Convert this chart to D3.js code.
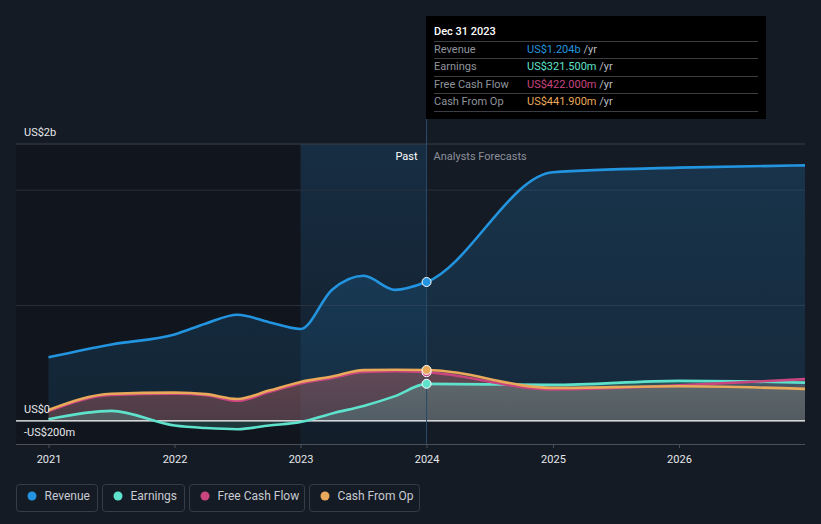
<!DOCTYPE html>
<html>
<head>
<meta charset="utf-8">
<script src="https://cdn.jsdelivr.net/npm/d3@7"></script>
<style>
  html, body { margin: 0; padding: 0; background: #151b25; }
  svg { display: block; font-family: Roboto, "Noto Sans", sans-serif; }
</style>
</head>
<body>
<svg id="chart" width="821" height="524"></svg>
<script>
// ---- data (values in US$ billions) ----
const pastDates = [2021.0, 2021.5, 2022.0, 2022.25, 2022.5, 2022.75, 2023.0, 2023.25, 2023.5, 2023.75, 2024.0];
const forecastDates = [2025.0, 2026.0, 2027.0];

const revenuePast = [0.552, 0.663, 0.75, 0.845, 0.92, 0.856, 0.797, 1.137, 1.258, 1.136, 1.204];
const revenueForecast = [2.155, 2.195, 2.215];

const earningsPast = [0.015, 0.087, -0.04, -0.062, -0.072, -0.04, -0.01, 0.065, 0.13, 0.215, 0.3215];
const earningsForecast = [0.312, 0.347, 0.332];

const fcfPast = [0.085, 0.225, 0.235, 0.222, 0.175, 0.25, 0.325, 0.372, 0.425, 0.43, 0.422];
const fcfForecast = [0.273, 0.308, 0.362];

const cfoPast = [0.095, 0.235, 0.245, 0.232, 0.19, 0.263, 0.338, 0.385, 0.44, 0.443, 0.4419];
const cfoForecast = [0.286, 0.30, 0.278];

const yearTicks = [2021, 2022, 2023, 2024, 2025, 2026];
const yTickLabels = [{v: 2.4, t: "US$2b"}, {v: 0, t: "US$0"}, {v: -0.2, t: "-US$200m"}];
const gridValues = [1, 2];

const tooltipDate = "Dec 31 2023";
const tooltipRows = [
  {name: "Revenue", value: "US$1.204b"},
  {name: "Earnings", value: "US$321.500m"},
  {name: "Free Cash Flow", value: "US$422.000m"},
  {name: "Cash From Op", value: "US$441.900m"}
];

const seriesNames = ["Revenue", "Earnings", "Free Cash Flow", "Cash From Op"];
const seriesColors = ["#2394df", "#5fe2cc", "#c8457f", "#e8a95a"];

// ---- build ----
const toDate = d => {
  const yr = Math.floor(d);
  const start = new Date(yr, 0, 1), end = new Date(yr + 1, 0, 1);
  return new Date(+start + (d - yr) * (end - start));
};
const series = [
  {name: "Revenue", past: revenuePast, fc: revenueForecast},
  {name: "Earnings", past: earningsPast, fc: earningsForecast},
  {name: "Free Cash Flow", past: fcfPast, fc: fcfForecast},
  {name: "Cash From Op", past: cfoPast, fc: cfoForecast}
].map((s, i) => ({
  name: s.name,
  color: seriesColors[i],
  pts: pastDates.map((d, j) => ({date: toDate(d), v: s.past[j]}))
        .concat(forecastDates.map((d, j) => ({date: toDate(d), v: s.fc[j]})))
}));

const svg = d3.select("#chart");
const pLeft = 16, pRight = 805, pTop = 144, pBottom = 444;

const x = d3.scaleTime()
  .domain([toDate(2021), toDate(2027)])
  .range([48.5, 805]);
const y = d3.scaleLinear().domain([-0.2, 2.4]).range([pBottom, pTop]);

const nowX = x(toDate(2024));
const bandX = x(toDate(2023));

const defs = svg.append("defs");
const bandGrad = defs.append("linearGradient").attr("id", "band").attr("x1", 0).attr("x2", 0).attr("y1", 0).attr("y2", 1);
bandGrad.append("stop").attr("offset", "0%").attr("stop-color", "#1e4a70").attr("stop-opacity", 0.45);
bandGrad.append("stop").attr("offset", "100%").attr("stop-color", "#1e4a70").attr("stop-opacity", 0.15);

series.forEach((s, i) => {
  const g = defs.append("linearGradient").attr("id", "ag" + i).attr("x1", 0).attr("x2", 0).attr("y1", 0).attr("y2", 1);
  g.append("stop").attr("offset", "0%").attr("stop-color", s.color).attr("stop-opacity", i === 0 ? 0.2 : 0.22);
  g.append("stop").attr("offset", "100%").attr("stop-color", s.color).attr("stop-opacity", i === 0 ? 0.12 : 0.16);
});

// past background
svg.append("rect").attr("x", pLeft).attr("y", pTop).attr("width", nowX - pLeft).attr("height", pBottom - pTop)
  .attr("fill", "#11161e");
svg.append("rect").attr("x", bandX).attr("y", pTop).attr("width", nowX - bandX).attr("height", pBottom - pTop)
  .attr("fill", "url(#band)");

// gridlines
svg.selectAll(".grid").data(gridValues).enter().append("line")
  .attr("x1", pLeft).attr("x2", pRight).attr("y1", d => y(d)).attr("y2", d => y(d))
  .attr("stroke", "#2a313c").attr("stroke-width", 1);
svg.append("line").attr("x1", pLeft).attr("x2", pRight).attr("y1", y(2.4)).attr("y2", y(2.4))
  .attr("stroke", "#3b414b").attr("stroke-width", 1);

// areas
const area = d3.area().x(d => x(d.date)).y0(y(0)).y1(d => y(d.v)).curve(d3.curveMonotoneX);
const line = d3.line().x(d => x(d.date)).y(d => y(d.v)).curve(d3.curveMonotoneX);

const order = [0, 3, 2, 1];
order.forEach(i => {
  svg.append("path").attr("d", area(series[i].pts)).attr("fill", "url(#ag" + i + ")");
});

// zero line
svg.append("line").attr("x1", pLeft).attr("x2", pRight).attr("y1", y(0)).attr("y2", y(0))
  .attr("stroke", "#ffffff").attr("stroke-width", 1.2);

// lines
[1, 2, 3, 0].forEach(i => {
  svg.append("path").attr("d", line(series[i].pts)).attr("fill", "none")
    .attr("stroke", series[i].color).attr("stroke-width", 2.6).attr("stroke-linejoin", "round");
});

// now line
svg.append("line").attr("x1", nowX).attr("x2", nowX).attr("y1", 16).attr("y2", pBottom)
  .attr("stroke", "#2a4a6a").attr("stroke-width", 1);

// dots at now
[2, 3, 1, 0].forEach(i => {
  const p = series[i].pts[pastDates.length - 1];
  svg.append("circle").attr("cx", x(p.date)).attr("cy", y(p.v)).attr("r", 4.5)
    .attr("fill", series[i].color).attr("stroke", "#ffffff").attr("stroke-width", 1);
});

// x axis
const xAxis = d3.axisBottom(x).tickValues(yearTicks.map(d => toDate(d))).tickFormat(d3.timeFormat("%Y")).tickSize(4).tickSizeOuter(0);
const ax = svg.append("g").attr("transform", `translate(0,${pBottom})`).call(xAxis);
ax.select(".domain").remove();
ax.selectAll(".tick line").attr("stroke", "#4a505a");
ax.selectAll(".tick text").attr("fill", "#e6e8eb").attr("font-size", 11).attr("dy", "1.1em")
  .attr("font-family", "Roboto, sans-serif");
svg.append("line").attr("x1", pLeft).attr("x2", pRight).attr("y1", pBottom + 0.5).attr("y2", pBottom + 0.5)
  .attr("stroke", "#4a505a").attr("stroke-width", 1);

// y labels
svg.selectAll(".ylab").data(yTickLabels).enter().append("text")
  .attr("x", 24)
  .attr("y", d => y(d.v) - 8)
  .attr("fill", "#e6e8eb").attr("font-size", 11).text(d => d.t);

// Past / Analysts Forecasts
svg.append("text").attr("x", nowX - 9).attr("y", 160).attr("text-anchor", "end")
  .attr("fill", "#ffffff").attr("font-size", 11).text("Past");
svg.append("text").attr("x", nowX + 7).attr("y", 160)
  .attr("fill", "#8b9099").attr("font-size", 11).text("Analysts Forecasts");

// tooltip
const tt = svg.append("g");
tt.append("rect").attr("x", 426).attr("y", 16).attr("width", 340).attr("height", 103).attr("fill", "#000000");
tt.append("text").attr("x", 434).attr("y", 35).attr("fill", "#ffffff").attr("font-size", 11)
  .attr("font-weight", 500).text(tooltipDate);
const rowSep = [41, 58, 76, 93, 111];
rowSep.forEach(yy => tt.append("line").attr("x1", 434).attr("x2", 758).attr("y1", yy + 0.5).attr("y2", yy + 0.5)
  .attr("stroke", "#3a3d42").attr("stroke-width", 1));
tooltipRows.forEach((r, i) => {
  const yy = 53 + i * 17.3;
  tt.append("text").attr("x", 434).attr("y", yy).attr("fill", "#8f949c").attr("font-size", 11).text(r.name);
  const t = tt.append("text").attr("x", 527).attr("y", yy).attr("font-size", 11);
  t.append("tspan").attr("fill", seriesColors[i]).text(r.value);
  t.append("tspan").attr("fill", "#b9bdc3").text(" /yr");
});

// legend
const legendBoxes = [{x: 16.5, w: 81}, {x: 102.5, w: 82}, {x: 189.5, w: 115}, {x: 309.5, w: 110}];
seriesNames.forEach((n, i) => {
  const b = legendBoxes[i];
  const g = svg.append("g");
  g.append("rect").attr("x", b.x).attr("y", 484.5).attr("width", b.w).attr("height", 27).attr("rx", 3)
    .attr("fill", "none").attr("stroke", "#373d48").attr("stroke-width", 1);
  g.append("circle").attr("cx", b.x + 15.5).attr("cy", 496).attr("r", 4.5).attr("fill", seriesColors[i]);
  g.append("text").attr("x", b.x + 28).attr("y", 500).attr("fill", "#c7cad0").attr("font-size", 12).text(n);
});
</script>
</body>
</html>
